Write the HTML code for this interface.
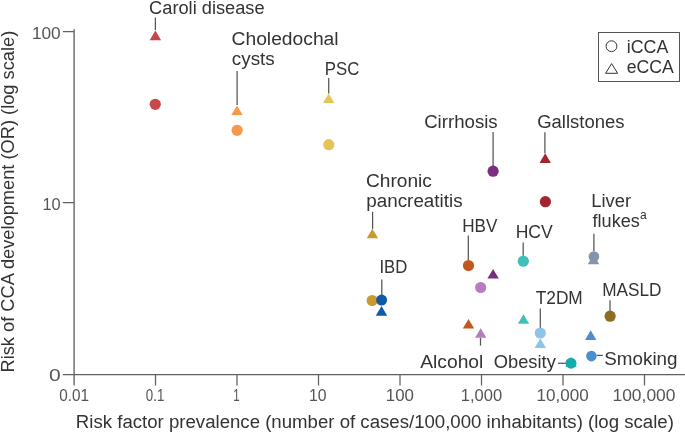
<!DOCTYPE html>
<html><head><meta charset="utf-8">
<style>
html,body{margin:0;padding:0;background:#fff;width:685px;height:432px;overflow:hidden}
svg{display:block;will-change:transform;font-family:"Liberation Sans",sans-serif}
.t{font-size:18px;fill:#333}
.n{font-size:17px;fill:#555}
.ax{stroke:#606060;stroke-width:1.25;fill:none}
.ld{stroke:#555;stroke-width:1.25;fill:none}
</style></head><body>
<svg width="685" height="432" viewBox="0 0 685 432">
<g class="ax">
<path d="M74.1 29.2V385.6" style="stroke:#666;stroke-width:1.4"/>
<path d="M62.8 374.5H685"/>
<path d="M62.8 31.7H74M62.8 202.5H74"/>
<path d="M155.5 374.5V385.6M237 374.5V385.6M318.5 374.5V385.6M400 374.5V385.6M481.5 374.5V385.6M563 374.5V385.6M644.5 374.5V385.6"/>
</g>
<g class="ld">
<path d="M155.4 17.5V30"/>
<path d="M237.1 71.1V104.9"/>
<path d="M328.7 78.1V93.4"/>
<path d="M493.1 131.9V166.1"/>
<path d="M544.9 132.2V153.3"/>
<path d="M372.6 211.7V228.9"/>
<path d="M468.3 235.5V260.1"/>
<path d="M523.2 242.4V255.8"/>
<path d="M593.9 233.8V251.3"/>
<path d="M381.8 279.4V294.9"/>
<path d="M610 300.2V310.9"/>
<path d="M540.3 308.6V328"/>
<path d="M480.5 337.8V345.6"/>
<path d="M558 363.3H566"/>
<path d="M596.7 355.4H602.8"/>
</g>
<path d="M155.40 30.60L161.10 40.20H149.70Z" fill="#c9444a"/>
<circle cx="155.25" cy="104.3" r="5.6" fill="#c8484a"/>
<path d="M237.00 105.40L242.70 115.00H231.30Z" fill="#f5994a"/>
<circle cx="237.1" cy="130.3" r="5.6" fill="#f5994a"/>
<path d="M328.70 93.40L334.40 103.00H323.00Z" fill="#e7c45a"/>
<circle cx="328.8" cy="144.7" r="5.6" fill="#e7c45a"/>
<circle cx="493.1" cy="171.2" r="5.6" fill="#7b2d7e"/>
<path d="M493.10 268.90L498.80 278.50H487.40Z" fill="#7b2d7e"/>
<path d="M545.20 153.30L550.90 162.90H539.50Z" fill="#a3262e"/>
<circle cx="545.4" cy="201.7" r="5.6" fill="#a3262e"/>
<path d="M372.40 228.70L378.10 238.30H366.70Z" fill="#c99a30"/>
<circle cx="372.2" cy="300.5" r="5.6" fill="#c99a30"/>
<circle cx="381.6" cy="300.1" r="5.5" fill="#0e5aa6"/>
<path d="M381.50 306.10L387.20 315.70H375.80Z" fill="#0e5aa6"/>
<circle cx="468.5" cy="265.5" r="5.6" fill="#c0581f"/>
<path d="M468.50 319.00L474.20 328.60H462.80Z" fill="#c0581f"/>
<circle cx="480.7" cy="287.5" r="5.6" fill="#b67ec0"/>
<path d="M480.70 328.20L486.40 337.80H475.00Z" fill="#b67ec0"/>
<circle cx="523.3" cy="261.2" r="5.6" fill="#40bfbd"/>
<path d="M523.50 314.20L529.20 323.80H517.80Z" fill="#40bfbd"/>
<path d="M593.50 254.60L599.20 264.20H587.80Z" fill="#8693ae"/>
<circle cx="593.9" cy="256.6" r="5.3" fill="#8693ae"/>
<path d="M540.30 338.30L546.00 347.90H534.60Z" fill="#8ec3ea"/>
<circle cx="540.3" cy="333" r="5.6" fill="#8ec3ea"/>
<path d="M590.70 330.30L596.40 339.90H585.00Z" fill="#4a90cd"/>
<circle cx="591.4" cy="356.1" r="5.3" fill="#4a90cd"/>
<circle cx="610.1" cy="316.2" r="5.6" fill="#8e6b22"/>
<path d="M571.00 357.10L576.70 366.70H565.30Z" fill="#14abab"/>
<circle cx="571" cy="363.2" r="5.5" fill="#14abab"/>
<rect x="598.5" y="32.5" width="81" height="49" fill="none" stroke="#555" stroke-width="1"/>
<circle cx="611.5" cy="46.2" r="5.4" fill="none" stroke="#333" stroke-width="1"/>
<path d="M611.6 63.6L617.6 73.3H605.6Z" fill="none" stroke="#333" stroke-width="1"/>
<text class="t" x="639.9" y="219.2" style="font-size:12px">a</text>
<text class="t" x="149.09" y="13.7" textLength="115.54" lengthAdjust="spacingAndGlyphs">Caroli disease</text>
<text class="t" x="231.53" y="45.4" textLength="107.09" lengthAdjust="spacingAndGlyphs">Choledochal</text>
<text class="t" x="231.81" y="65.3" textLength="42.99" lengthAdjust="spacingAndGlyphs">cysts</text>
<text class="t" x="324.80" y="75.0" textLength="34.51" lengthAdjust="spacingAndGlyphs">PSC</text>
<text class="t" x="424.16" y="128.1" textLength="73.53" lengthAdjust="spacingAndGlyphs">Cirrhosis</text>
<text class="t" x="537.17" y="127.9" textLength="87.29" lengthAdjust="spacingAndGlyphs">Gallstones</text>
<text class="t" x="365.94" y="187.0" textLength="65.93" lengthAdjust="spacingAndGlyphs">Chronic</text>
<text class="t" x="366.29" y="206.9" textLength="96.30" lengthAdjust="spacingAndGlyphs">pancreatitis</text>
<text class="t" x="591.27" y="206.7" textLength="39.80" lengthAdjust="spacingAndGlyphs">Liver</text>
<text class="t" x="592.55" y="227.3" textLength="47.24" lengthAdjust="spacingAndGlyphs">flukes</text>
<text class="t" x="462.17" y="231.7" textLength="35.18" lengthAdjust="spacingAndGlyphs">HBV</text>
<text class="t" x="515.64" y="238.3" textLength="37.12" lengthAdjust="spacingAndGlyphs">HCV</text>
<text class="t" x="379.38" y="273.4" textLength="27.83" lengthAdjust="spacingAndGlyphs">IBD</text>
<text class="t" x="602.17" y="295.8" textLength="59.27" lengthAdjust="spacingAndGlyphs">MASLD</text>
<text class="t" x="535.72" y="303.5" textLength="47.02" lengthAdjust="spacingAndGlyphs">T2DM</text>
<text class="t" x="420.20" y="367.8" textLength="63.19" lengthAdjust="spacingAndGlyphs">Alcohol</text>
<text class="t" x="493.74" y="367.8" textLength="62.09" lengthAdjust="spacingAndGlyphs">Obesity</text>
<text class="t" x="604.32" y="364.5" textLength="73.22" lengthAdjust="spacingAndGlyphs">Smoking</text>
<text class="t" x="626.76" y="52.8" textLength="41.55" lengthAdjust="spacingAndGlyphs">iCCA</text>
<text class="t" x="626.67" y="73.1" textLength="47.05" lengthAdjust="spacingAndGlyphs">eCCA</text>
<text class="t" x="75.85" y="427.9" textLength="598.03" lengthAdjust="spacingAndGlyphs">Risk factor prevalence (number of cases/100,000 inhabitants) (log scale)</text>
<text class="t" transform="translate(13.7,371)rotate(-90)" x="-1.52" y="0" textLength="341.76" lengthAdjust="spacingAndGlyphs">Risk of CCA development (OR) (log scale)</text>
<text class="n" x="31.93" y="39.0" textLength="28.80" lengthAdjust="spacingAndGlyphs">100</text>
<text class="n" x="42.49" y="209.8" textLength="18.25" lengthAdjust="spacingAndGlyphs">10</text>
<text class="n" x="48.97" y="380.5" textLength="11.72" lengthAdjust="spacingAndGlyphs">0</text>
<text class="n" x="59.22" y="400.6" textLength="29.84" lengthAdjust="spacingAndGlyphs">0.01</text>
<text class="n" x="145.81" y="400.6" textLength="18.48" lengthAdjust="spacingAndGlyphs">0.1</text>
<text class="n" x="233.16" y="400.6" textLength="6.40" lengthAdjust="spacingAndGlyphs">1</text>
<text class="n" x="309.04" y="400.6" textLength="17.59" lengthAdjust="spacingAndGlyphs">10</text>
<text class="n" x="385.76" y="400.6" textLength="28.16" lengthAdjust="spacingAndGlyphs">100</text>
<text class="n" x="460.78" y="400.6" textLength="41.39" lengthAdjust="spacingAndGlyphs">1,000</text>
<text class="n" x="536.55" y="400.6" textLength="52.10" lengthAdjust="spacingAndGlyphs">10,000</text>
<text class="n" x="612.47" y="400.6" textLength="63.00" lengthAdjust="spacingAndGlyphs">100,000</text>
</svg>
</body></html>
